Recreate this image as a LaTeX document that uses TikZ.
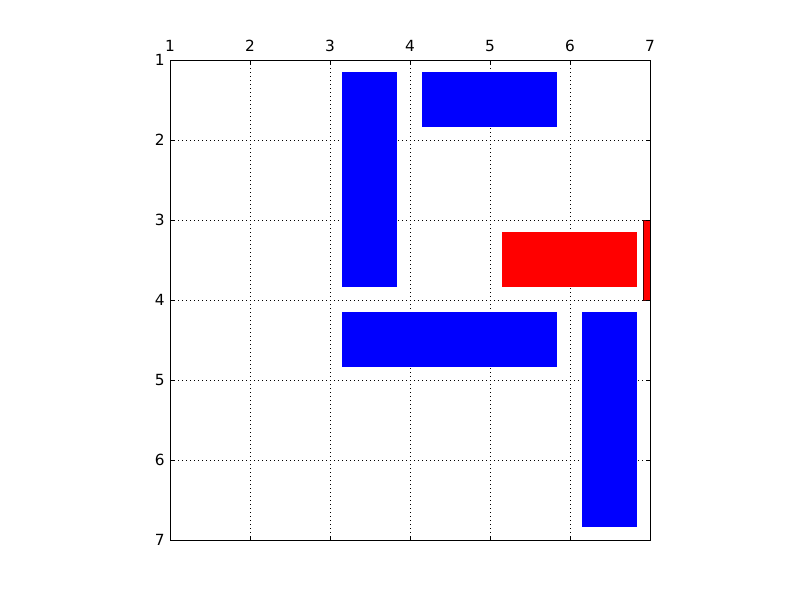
\documentclass[tikz,border=0pt]{standalone}
\usepackage{fontspec}
\setmainfont{DejaVu Sans}
\begin{document}
\begin{tikzpicture}[x=0.75pt,y=-0.75pt,
  gridline/.style={black,line width=0.5pt,dash pattern=on 0.75pt off 2.25pt},
  axisframe/.style={black,line width=0.75pt},
  tickmark/.style={black,line width=0.6pt},
  ticklab/.style={font=\fontsize{11.5}{13}\selectfont,inner sep=0pt},
  bluebox/.style={fill=blue},
  redbox/.style={fill=red}]
\useasboundingbox (0,0) rectangle (800,600);
% grid
\foreach \i in {2,...,6}{
  \draw[gridline] ({170+80*(\i-1)},60) -- ({170+80*(\i-1)},540);
  \draw[gridline] (170,{60+80*(\i-1)}) -- (650,{60+80*(\i-1)});
}
% rectangles
\fill[bluebox] (342,72) rectangle (397,287);
\fill[bluebox] (422,72) rectangle (557,127);
\fill[redbox] (502,232) rectangle (637,287);
\fill[bluebox] (342,312) rectangle (557,367);
\fill[bluebox] (582,312) rectangle (637,527);
\begin{scope}
\clip (170,60) rectangle (650,540);
\filldraw[fill=red,draw=black!70!red,line width=0.6pt] (643,220) rectangle (660,300);
\end{scope}
% ticks
\foreach \i in {1,...,7}{
  \draw[tickmark] ({170+80*(\i-1)},60) -- ({170+80*(\i-1)},64.5);
  \draw[tickmark] ({170+80*(\i-1)},540) -- ({170+80*(\i-1)},535.5);
  \draw[tickmark] (170,{60+80*(\i-1)}) -- (174.5,{60+80*(\i-1)});
  \draw[tickmark] (650,{60+80*(\i-1)}) -- (645.5,{60+80*(\i-1)});
  \node[ticklab,anchor=base] (xl\i) at ({170+80*(\i-1)},51) {\i};
  \node[ticklab,anchor=east] (yl\i) at (165,{60+80*(\i-1)}) {\i};
}
% frame
\draw[axisframe] (170,60) rectangle (650,540);
\end{tikzpicture}
\end{document}
